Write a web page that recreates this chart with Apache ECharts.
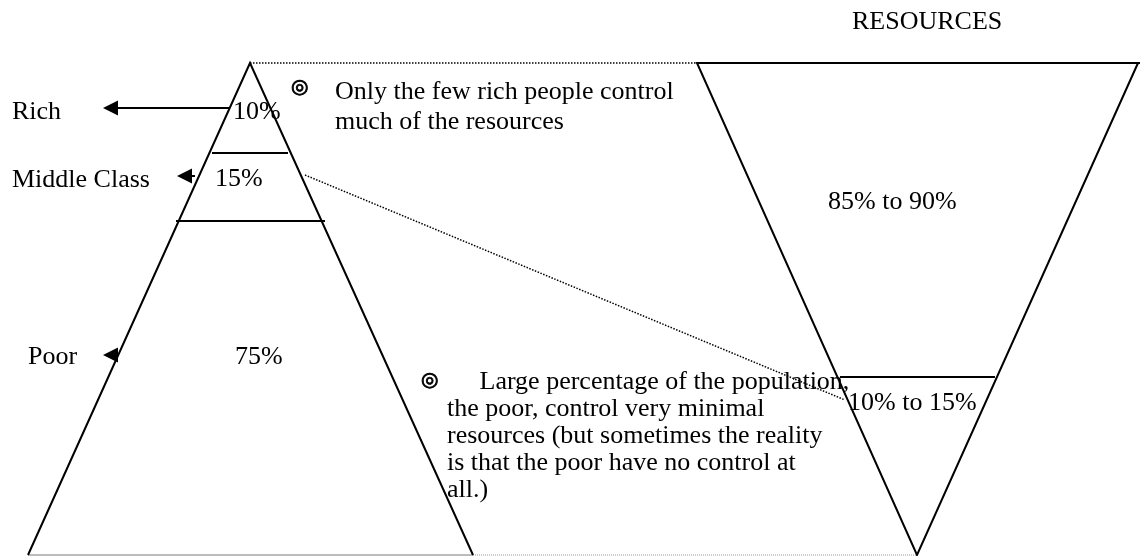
<!DOCTYPE html>
<html>
<head>
<meta charset="utf-8">
<title>Population vs Resources</title>
<script src="https://cdn.jsdelivr.net/npm/echarts@6/dist/echarts.min.js"></script>
<style>
  html, body { margin: 0; padding: 0; background: #fff; }
  #chart { width: 1140px; height: 556px; }
</style>
</head>
<body>
<div id="chart"></div>
<script>
"use strict";

// Diagram space: 1 unit = 1 px, y grows downward (axis is inverted)
const PAGE_W = 1140;
const PAGE_H = 556;

// Population pyramid (left) and resources pyramid (right, upside down)
const populationSides = [[28, 555], [250, 63], [473, 555]];
const populationBase = [[28, 555], [473, 555]];
const resourceOutline = [[1140, 63], [697, 63], [917, 555], [1138, 63]];

// Dividers between the layers
const classDividers = [
  [[212, 153], [288, 153]],
  [[176, 221], [325, 221]],
];
const resourceDivider = [[840, 377], [995, 377]];

// Dotted guide lines
const guideTop = [[250, 63], [697, 63]];
const guideBase = [[473, 555], [917, 555]];
const guideLink = [[305, 175], [845, 400]];

// Arrows pointing to the class names: start point and tip
const arrowStarts = [[230, 108], [195, 176], [118, 355]];
const arrowTips = [[103, 108], [177, 176], [103, 355]];

// Labels
const classNames = ["Rich", "Middle Class", "Poor"];
const classNamePos = [[12, 112], [12, 180], [28, 357]];
const populationShares = ["10%", "15%", "75%"];
const populationSharePos = [[233, 112], [215, 179], [235, 357]];
const resourceShares = ["85% to 90%", "10% to 15%"];
const resourceSharePos = [[828, 202], [848, 403]];
const headerText = "RESOURCES";
const headerPos = [852, 22];

// Notes with their bullets
const bulletPos = [[291, 88], [421, 381]];
const noteRich = ["Only the few rich people control", "much of the resources"];
const noteRichPos = [[335, 92], [335, 122]];
const notePoor = [
  "     Large percentage of the population,",
  "the poor, control very minimal",
  "resources (but sometimes the reality",
  "is that the poor have no control at",
  "all.)",
];
const notePoorPos = [[447, 382], [447, 409], [447, 436], [447, 463], [447, 490]];

const FONT = "Liberation Serif";
const ARROW_SIZE = 15;

function segment(coords, style) {
  return {
    type: "lines",
    coordinateSystem: "cartesian2d",
    polyline: true,
    silent: true,
    symbol: "none",
    lineStyle: Object.assign({ color: "#000", width: 2, opacity: 1 }, style),
    data: [{ coords: coords }],
    z: 2,
  };
}

function textItems(texts, positions, extra) {
  return texts.map(function (t, i) {
    return { name: t, value: positions[i], label: extra || {} };
  });
}

// Arrow ends sit half a symbol behind the tip so the triangle point lands on it
const arrowData = arrowStarts.map(function (s, i) {
  const tip = arrowTips[i];
  const dir = Math.sign(s[0] - tip[0]);
  return { coords: [s, [tip[0] + dir * ARROW_SIZE / 2, tip[1]]] };
});

// bullets get a thin outline so the rings read as heavy as in the scan
const bulletStyle = {
  fontFamily: "DejaVu Sans",
  fontSize: 20,
  fontWeight: "bold",
  textBorderColor: "#000",
  textBorderWidth: 0.9,
};

const textData = []
  .concat(textItems(classNames, classNamePos))
  .concat(textItems(populationShares, populationSharePos))
  .concat(textItems(resourceShares, resourceSharePos))
  .concat(textItems([headerText], [headerPos]))
  .concat(textItems(noteRich, noteRichPos))
  .concat(textItems(notePoor, notePoorPos))
  .concat(textItems(["◎", "◎"], bulletPos, bulletStyle));

const chart = echarts.init(document.getElementById("chart"), null, { renderer: "canvas" });

chart.setOption({
  backgroundColor: "#fff",
  animation: false,
  grid: { left: 0, right: 0, top: 0, bottom: 0 },
  xAxis: { type: "value", min: 0, max: PAGE_W, show: false },
  yAxis: { type: "value", min: 0, max: PAGE_H, inverse: true, show: false },
  series: [
    segment(guideTop, { type: "dotted", width: 1.5 }),
    segment(guideBase, { type: "dotted", width: 1, color: "#9a9a9a" }),
    segment(guideLink, { type: "dotted", width: 1.5 }),
    segment(populationBase, { color: "#bcbcbc", width: 2 }),
    segment(populationSides, {}),
    segment(resourceOutline, {}),
    segment(classDividers[0], {}),
    segment(classDividers[1], {}),
    segment(resourceDivider, {}),
    {
      type: "lines",
      coordinateSystem: "cartesian2d",
      silent: true,
      symbol: ["none", "triangle"],
      symbolSize: ARROW_SIZE,
      lineStyle: { color: "#000", width: 2, opacity: 1 },
      data: arrowData,
      z: 3,
    },
    {
      type: "scatter",
      silent: true,
      symbolSize: 0,
      itemStyle: { opacity: 1 },
      data: textData,
      label: {
        show: true,
        position: "right",
        distance: 0,
        formatter: "{b}",
        color: "#000",
        opacity: 1,
        fontFamily: FONT,
        fontSize: 26,
        align: "left",
        verticalAlign: "middle",
      },
      z: 4,
    },
  ],
});
</script>
</body>
</html>
